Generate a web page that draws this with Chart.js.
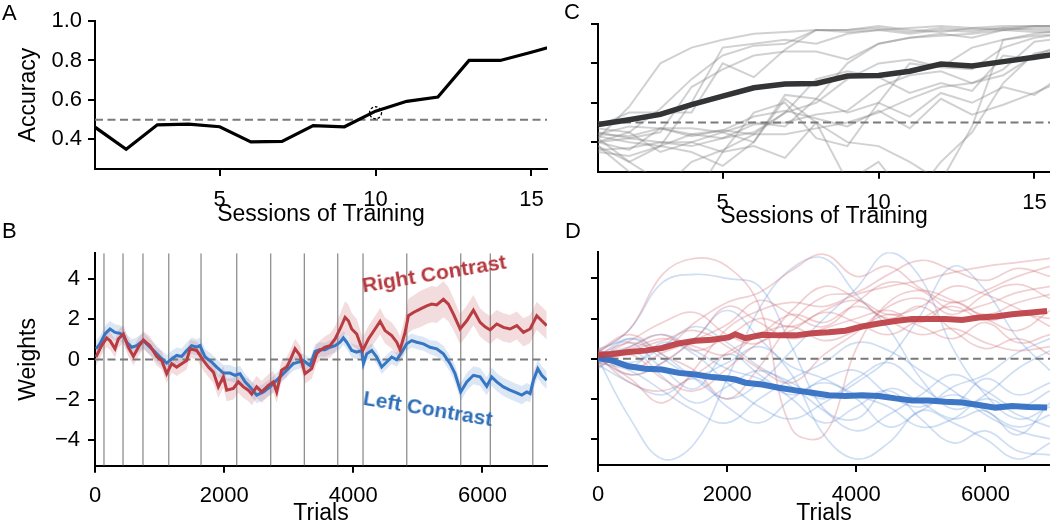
<!DOCTYPE html>
<html>
<head>
<meta charset="utf-8">
<script src="https://cdn.jsdelivr.net/npm/chart.js@4.4.0/dist/chart.umd.min.js"></script>
<style>
html,body{margin:0;padding:0;width:1050px;height:523px;overflow:hidden;background:#fff;font-family:"Liberation Sans",Arial,sans-serif;}
body{position:relative;}
canvas{position:absolute;}
.lbl{position:absolute;font-size:22px;line-height:1;color:#000;z-index:5;}
.ann{position:absolute;font-weight:bold;font-size:21px;line-height:1;white-space:nowrap;z-index:5;}
</style>
</head>
<body>
<canvas id="cA" width="555" height="232" style="left:0;top:0"></canvas>
<canvas id="cC" width="555" height="232" style="left:503px;top:0"></canvas>
<canvas id="cB" width="555" height="300" style="left:0;top:232px"></canvas>
<canvas id="cD" width="555" height="300" style="left:503px;top:232px"></canvas>
<div class="lbl" style="left:2px;top:2px">A</div>
<div class="lbl" style="left:2px;top:220px">B</div>
<div class="lbl" style="left:564px;top:1px">C</div>
<div class="lbl" style="left:565px;top:220px">D</div>
<div class="ann" style="left:434px;top:273px;color:#b5393e;transform:translate(-50%,-50%) rotate(-9.5deg)">Right Contrast</div>
<div class="ann" style="left:428px;top:408px;color:#2e6fb8;transform:translate(-50%,-50%) rotate(9.5deg)">Left Contrast</div>
<script>
// ---------------- Panel A: example animal accuracy ----------------
const sessions = [1,2,3,4,5,6,7,8,9,10,11,12,13,14,15,16];
const exampleAccuracy = [0.462,0.35,0.474,0.477,0.464,0.387,0.39,0.47,0.464,0.543,0.593,0.615,0.80,0.80,0.842,0.885];
const markedSession = [10];
const markedAccuracy = [0.535];
const chanceAccuracy = 0.5;
const accuracyTicks = [0.4,0.6,0.8,1.0];
const sessionTicks = [5,10,15];

// ---------------- Panel C: population accuracy ----------------
const meanAccuracy = [0.489,0.514,0.541,0.591,0.634,0.676,0.695,0.698,0.736,0.739,0.76,0.797,0.787,0.809,0.831,0.855];
const subjectAccuracy = [
  [0.42,0.58,0.80,0.88,0.92,0.95,0.96,0.97,0.97,0.98,0.96,0.98,0.97,0.98,0.99,0.99],
  [0.40,0.45,0.57,0.72,0.84,0.89,0.90,0.97,0.97,0.99,0.97,0.96,0.98,0.97,0.99,0.99],
  [0.48,0.55,0.55,0.55,0.80,0.73,0.87,0.97,0.96,0.97,0.98,0.99,0.98,0.99,0.99,0.99],
  [0.45,0.42,0.45,0.68,0.77,0.84,0.86,0.86,0.82,0.90,0.93,0.95,0.93,0.97,0.98,0.98],
  [0.38,0.30,0.38,0.60,0.88,0.90,0.92,0.90,0.95,0.97,0.95,0.97,0.96,0.98,0.97,0.97],
  [0.44,0.48,0.47,0.47,0.45,0.50,0.48,0.62,0.80,0.90,0.93,0.94,0.95,0.97,0.96,0.96],
  [0.40,0.36,0.47,0.44,0.42,0.45,0.55,0.60,0.72,0.80,0.82,0.78,0.77,0.88,0.93,0.95],
  [0.36,0.37,0.40,0.38,0.42,0.49,0.50,0.54,0.56,0.68,0.74,0.76,0.70,0.77,0.91,0.93],
  [0.47,0.45,0.35,0.40,0.45,0.40,0.64,0.62,0.55,0.60,0.53,0.65,0.60,0.68,0.64,0.75],
  [0.43,0.40,0.38,0.35,0.28,0.40,0.62,0.50,0.20,0.30,0.10,0.30,0.45,0.70,0.85,0.88],
  [0.38,0.25,0.15,0.30,0.36,0.44,0.55,0.72,0.76,0.73,0.65,0.70,0.66,0.84,0.82,0.88],
  [0.35,0.33,0.38,0.44,0.46,0.53,0.56,0.52,0.48,0.56,0.47,0.62,0.54,0.59,0.65,0.72],
  [0.42,0.30,0.20,0.10,0.35,0.55,0.60,0.42,0.38,0.60,0.80,0.78,0.88,0.92,0.94,0.95],
  [0.44,0.43,0.47,0.43,0.46,0.44,0.44,0.47,0.50,0.55,0.62,0.68,0.70,0.74,0.84,0.90],
  [0.40,0.42,0.40,0.40,0.35,0.38,0.32,0.50,0.40,0.38,0.30,0.20,0.48,0.92,0.95,0.97]
];

// ---------------- Panel B: example animal weights ----------------
const sessionBounds = [139,434,743,1142,1642,2195,2721,3242,3759,4151,4828,5664,6122,6780];
const trialTicks = [0,2000,4000,6000];
const weightTicks = [-4,-2,0,2,4];
// [trial, weight, band half-width]
const rightContrastEx = [
  [15,0.12,0.45],[103,0.69,0.45],[181,1.07,0.45],[232,0.94,0.45],[310,0.53,0.45],[361,1.02,0.45],[439,1.27,0.45],
  [516,0.61,0.45],[594,0.15,0.45],[671,0.61,0.45],[749,0.97,0.45],[852,0.69,0.45],[955,0.15,0.45],[1033,-0.05,0.45],
  [1110,-0.71,0.45],[1188,-0.21,0.45],[1265,-0.38,0.45],[1342,-0.21,0.45],[1420,-0.05,0.45],[1472,0.53,0.45],
  [1575,0.45,0.45],[1678,-0.05,0.5],[1756,-0.38,0.5],[1833,-0.63,0.55],[1910,-1.37,0.55],[1988,-0.87,0.55],
  [2040,-1.53,0.55],[2143,-1.45,0.55],[2220,-1.12,0.55],[2298,-1.37,0.55],[2375,-1.53,0.55],[2427,-1.73,0.55],
  [2504,-1.37,0.55],[2582,-1.62,0.55],[2685,-1.29,0.55],[2762,-1.12,0.55],[2814,-1.62,0.55],[2891,-0.54,0.5],
  [2969,-0.38,0.5],[3021,-0.05,0.5],[3098,0.53,0.5],[3175,0.2,0.5],[3253,-0.71,0.5],[3356,-0.46,0.5],
  [3434,0.3,0.5],[3485,0.45,0.5],[3563,0.61,0.55],[3640,0.69,0.6],[3718,1.02,0.65],[3795,1.52,0.75],
  [3873,2.1,0.8],[3924,1.93,0.8],[3976,1.52,0.8],[4053,1.27,0.75],[4146,0.45,0.65],[4234,1.02,0.65],
  [4337,1.52,0.65],[4415,1.9,0.65],[4492,1.44,0.65],[4595,1.19,0.65],[4673,0.86,0.65],[4724,0.48,0.65],
  [4802,1.35,0.8],[4854,2.18,0.85],[4931,2.34,0.85],[5034,2.51,0.9],[5137,2.67,0.9],[5215,2.76,0.9],
  [5292,2.72,0.9],[5396,3.0,0.9],[5473,2.76,0.85],[5551,2.26,0.8],[5654,1.52,0.75],[5757,1.93,0.75],
  [5860,2.46,0.75],[5964,1.85,0.7],[6041,1.63,0.7],[6119,1.47,0.7],[6222,1.77,0.7],[6325,1.6,0.7],
  [6428,1.52,0.7],[6532,1.69,0.7],[6635,1.35,0.7],[6738,1.52,0.7],[6841,2.18,0.7],[6919,1.93,0.7],[6996,1.69,0.7]
];
const leftContrastEx = [
  [15,0.53,0.4],[77,0.78,0.4],[155,1.27,0.4],[232,1.52,0.4],[310,1.35,0.4],[387,1.3,0.4],[439,1.19,0.4],
  [491,0.86,0.4],[568,0.61,0.4],[645,0.69,0.4],[749,0.94,0.4],[826,0.69,0.4],[904,0.45,0.4],[1007,0.12,0.4],
  [1110,-0.18,0.4],[1188,0.03,0.4],[1265,0.2,0.4],[1342,0.15,0.4],[1420,0.45,0.4],[1497,0.69,0.4],
  [1575,0.61,0.4],[1626,0.69,0.4],[1704,0.12,0.4],[1807,-0.13,0.4],[1885,-0.38,0.4],[1988,-0.68,0.4],
  [2091,-0.68,0.4],[2169,-0.79,0.4],[2246,-0.71,0.4],[2324,-1.12,0.4],[2401,-1.37,0.4],[2504,-1.78,0.4],
  [2608,-1.62,0.4],[2711,-1.37,0.4],[2788,-1.12,0.4],[2866,-0.87,0.35],[2969,-0.54,0.35],[3072,-0.21,0.35],
  [3150,-0.13,0.35],[3227,-0.05,0.35],[3330,-0.3,0.35],[3408,0.4,0.35],[3485,0.5,0.35],[3563,0.48,0.35],
  [3640,0.61,0.35],[3718,0.69,0.35],[3795,0.86,0.35],[3847,1.07,0.35],[3898,0.86,0.35],[3976,0.45,0.35],
  [4053,0.36,0.35],[4131,0.45,0.35],[4157,-0.21,0.35],[4208,0.28,0.35],[4286,0.45,0.35],[4363,0.12,0.35],
  [4440,-0.38,0.35],[4518,-0.13,0.35],[4595,0.12,0.35],[4673,-0.02,0.35],[4750,0.36,0.35],[4828,0.78,0.35],
  [4905,0.94,0.35],[4983,0.86,0.35],[5086,0.78,0.35],[5189,0.61,0.35],[5292,0.53,0.4],[5396,0.28,0.4],
  [5499,-0.21,0.4],[5576,-0.71,0.45],[5664,-1.62,0.45],[5757,-1.12,0.45],[5860,-0.79,0.45],[5964,-0.87,0.45],
  [6067,-1.34,0.45],[6144,-0.87,0.45],[6222,-1.12,0.45],[6325,-1.37,0.45],[6428,-1.53,0.45],[6532,-1.67,0.45],
  [6609,-1.78,0.45],[6687,-1.62,0.45],[6738,-1.7,0.45],[6790,-1.04,0.45],[6857,-0.46,0.45],[6919,-0.79,0.45],[6996,-1.04,0.45]
];

// ---------------- Panel D: population weights ----------------
const popTrials = [0,216,475,733,991,1250,1507,1766,2024,2127,2283,2541,2799,3057,3315,3573,3831,4089,4348,4606,4864,5122,5380,5639,5897,6155,6413,6671,6955];
const popRight = [0.2,0.23,0.33,0.4,0.53,0.76,0.89,0.94,1.06,1.22,1.02,1.19,1.16,1.16,1.27,1.32,1.39,1.6,1.75,1.88,1.98,1.98,1.98,1.93,2.05,2.1,2.21,2.29,2.38];
const popLeft = [0.03,-0.1,-0.38,-0.5,-0.54,-0.71,-0.79,-0.92,-0.99,-1.04,-1.2,-1.29,-1.45,-1.58,-1.7,-1.82,-1.86,-1.82,-1.86,-1.98,-2.08,-2.08,-2.15,-2.19,-2.31,-2.44,-2.36,-2.41,-2.44];
const subjTrials = [0,500,1000,1500,2000,2500,3000,3500,4000,4500,5000,5500,6000,6500,7000];
const subjRight = [
  [0.3,1.5,4.2,5.0,4.6,2.6,-3.5,-3.8,0.5,2.8,3.4,2.9,2.2,2.8,3.2],
  [0.0,-1.0,-2.2,-0.5,1.5,2.4,2.8,2.6,3.2,3.6,3.9,4.3,4.6,4.8,5.0],
  [0.2,0.8,0.5,1.8,2.8,3.3,4.4,5.2,4.1,4.6,3.5,2.8,3.4,4.1,4.6],
  [-0.3,0.6,1.2,0.4,1.1,2.0,1.6,2.4,2.9,2.2,2.6,3.6,3.2,2.5,1.6],
  [0.1,-1.2,-1.6,-0.8,0.3,1.2,2.2,1.8,2.6,1.9,1.2,1.5,0.8,0.4,0.6],
  [0.4,1.2,0.2,-0.6,-2.0,-0.4,1.8,3.1,3.3,4.2,4.9,4.4,3.9,4.5,4.1],
  [-0.2,0.4,0.9,1.4,0.6,-0.5,-1.2,0.2,1.3,2.6,3.0,2.2,3.2,3.7,3.0],
  [0.5,-0.5,0.3,1.0,2.6,1.8,1.0,1.5,2.0,2.4,1.8,2.8,2.0,1.4,2.4],
  [0.0,0.9,1.8,2.3,1.2,0.8,2.4,3.6,3.0,2.0,2.6,1.4,0.5,1.0,0.2],
  [0.3,-0.8,-0.2,0.9,1.7,2.9,2.2,1.6,2.8,3.8,3.4,2.4,2.7,3.3,3.6],
  [-0.4,0.2,-1.0,-1.6,-0.5,0.8,1.4,2.3,1.8,1.2,2.0,2.6,1.9,2.2,2.0],
  [0.2,0.5,1.0,0.6,0.2,1.2,1.6,0.9,1.4,2.2,1.6,1.0,1.8,0.8,1.2]
];
const subjLeft = [
  [0.0,-3.0,-5.0,-4.2,-1.0,2.5,4.5,5.0,3.2,1.5,-1.0,-2.5,-1.8,-0.5,0.4],
  [0.3,1.5,3.8,4.2,4.0,3.6,0.6,-2.5,-3.0,-1.5,-2.2,-3.0,-2.6,-3.8,-2.2],
  [-0.2,1.0,0.2,-1.0,-2.0,-1.2,0.4,2.0,3.5,5.3,4.0,0.5,-1.8,-3.0,-2.4],
  [0.5,0.8,-0.5,-1.5,0.2,-0.8,-2.0,-3.2,-2.4,-1.6,-3.0,-4.2,-3.6,-4.6,-4.8],
  [-0.3,-1.2,-1.8,-1.0,-2.4,-3.2,-2.0,-1.2,-2.0,-3.4,-2.6,-1.8,-2.6,-3.4,-2.8],
  [0.2,0.6,1.2,0.4,-0.5,-1.0,-1.8,-1.0,-0.6,-1.8,-2.4,-1.4,-0.8,0.3,1.0],
  [0.0,-0.8,-0.2,1.0,2.4,1.0,-0.8,-3.8,-5.0,-4.2,-2.6,-3.2,-4.0,-5.0,-4.2],
  [-0.5,0.4,-0.9,-2.2,-1.4,-0.6,-1.4,-2.6,-3.6,-2.8,-1.8,-0.8,-1.6,-2.4,-1.6],
  [0.3,-0.4,0.8,0.2,-1.2,-2.4,-3.0,-2.2,-1.2,0.0,2.2,4.6,3.4,1.0,-0.6],
  [0.1,1.0,0.0,-0.8,-0.2,0.6,-0.4,-1.0,-1.8,-2.4,-3.4,-3.0,-2.0,-2.8,-3.4],
  [-0.2,-0.6,-1.6,-2.6,-3.2,-2.0,-1.0,-0.2,0.8,0.4,-0.6,-1.6,-2.8,-3.6,-4.0],
  [0.4,-0.2,0.6,1.6,0.8,-0.4,-1.2,-2.0,-1.0,-0.2,-1.4,-2.2,-1.0,-1.8,-1.2]
];

// ---------------- styling helpers ----------------
const FONT = '"Liberation Sans", Arial, sans-serif';
const TICK_FONT = {family: FONT, size: 22};
const TITLE_FONT = {family: FONT, size: 23};
const DASH_COLOR = '#7a7a7a';
const RED = 'rgb(185,60,66)';
const BLUE = 'rgb(55,118,195)';

const dashPointPlugin = {
  id: 'dashPoint',
  beforeDatasetDraw(chart, args) {
    const ds = chart.data.datasets[args.index];
    if (ds.pointDash) { chart.ctx.save(); chart.ctx.setLineDash(ds.pointDash); }
  },
  afterDatasetDraw(chart, args) {
    const ds = chart.data.datasets[args.index];
    if (ds.pointDash) chart.ctx.restore();
  }
};

function lineDs(pts, color, width, extra) {
  return Object.assign({data: pts, borderColor: color, borderWidth: width, pointRadius: 0,
    pointHoverRadius: 0, fill: false, tension: 0}, extra || {});
}
const xy = (xs, ys) => ys.map((v, i) => ({x: xs[i], y: v}));
const fmtWeight = v => (v < 0 ? '\u2212' + Math.abs(v) : String(v));

function axis(o) {
  return {
    type: 'linear', position: o.position, min: o.min, max: o.max,
    afterFit: o.fit,
    afterBuildTicks: s => { s.ticks = o.ticks.map(v => ({value: v})); },
    grid: {drawOnChartArea: false, drawTicks: true, tickLength: 7, tickWidth: 2, tickColor: '#000', color: '#000', lineWidth: 2},
    border: {display: true, color: '#000', width: 2},
    ticks: {display: o.showLabels, autoSkip: false, maxRotation: 0, minRotation: 0,
      padding: o.tickPad, color: '#000', font: TICK_FONT, callback: o.fmt},
    title: {display: !!o.title, text: o.title || '', color: '#000', font: TITLE_FONT, padding: o.titlePad}
  };
}

function makeChart(id, datasets, cfg) {
  return new Chart(document.getElementById(id), {
    type: 'line',
    data: {datasets: datasets},
    plugins: [dashPointPlugin],
    options: {
      responsive: false, animation: false, devicePixelRatio: 1,
      layout: {padding: cfg.pad},
      plugins: {legend: {display: false}, tooltip: {enabled: false}},
      events: [],
      scales: {x: axis(cfg.x), y: axis(cfg.y)}
    }
  });
}

// ---------------- Panel A ----------------
makeChart('cA', [
  lineDs(xy(markedSession, markedAccuracy), '#000', 1.3, {showLine: false, pointRadius: 6, pointBorderWidth: 1.3,
    pointBorderColor: '#000', pointBackgroundColor: 'rgba(0,0,0,0)', pointDash: [2.5, 2], order: 0}),
  lineDs(xy(sessions, exampleAccuracy), '#000', 3.2, {order: 1}),
  lineDs([{x: 1, y: chanceAccuracy}, {x: 16, y: chanceAccuracy}], DASH_COLOR, 2, {borderDash: [8, 4.5], order: 3})
], {
  pad: {left: 0, top: 21, right: 8, bottom: 0},
  x: {position: 'bottom', min: 1, max: 15.5, ticks: sessionTicks, fit: s => { s.height = 63; }, showLabels: true,
      tickPad: 11, fmt: v => String(v), title: 'Sessions of Training', titlePad: {top: 0, bottom: 4}},
  y: {position: 'left', min: 0.25, max: 1.0, ticks: accuracyTicks, fit: s => { s.width = 95; }, showLabels: true,
      tickPad: 6, fmt: v => v.toFixed(1), title: 'Accuracy', titlePad: {top: 14.5, bottom: 0}}
});

// ---------------- Panel C ----------------
makeChart('cC', [
  lineDs(xy(sessions, meanAccuracy), '#323435', 5.5, {order: 0}),
  lineDs([{x: 1, y: chanceAccuracy}, {x: 16, y: chanceAccuracy}], DASH_COLOR, 2, {borderDash: [8, 4.5], order: 2}),
  ...subjectAccuracy.map(a => lineDs(xy(sessions, a), 'rgba(135,135,135,0.38)', 2, {order: 5}))
], {
  pad: {left: 0, top: 24, right: 8, bottom: 0},
  x: {position: 'bottom', min: 1, max: 15.5, ticks: sessionTicks, fit: s => { s.height = 60.3; }, showLabels: true,
      tickPad: 11, fmt: v => String(v), title: 'Sessions of Training', titlePad: {top: 0, bottom: 2}},
  y: {position: 'left', min: 0.25, max: 1.0, ticks: accuracyTicks, fit: s => { s.width = 95; }, showLabels: false,
      tickPad: 6, fmt: v => v.toFixed(1), title: '', titlePad: 0}
});

// ---------------- Panel B ----------------
makeChart('cB', [
  lineDs(rightContrastEx.map(p => ({x: p[0], y: p[1]})), RED, 3, {order: 1}),
  lineDs(leftContrastEx.map(p => ({x: p[0], y: p[1]})), BLUE, 3, {order: 2}),
  lineDs([{x: 0, y: 0}, {x: 7000, y: 0}], DASH_COLOR, 2, {borderDash: [8, 4.5], order: 3}),
  lineDs(rightContrastEx.map(p => ({x: p[0], y: p[1] + p[2]})), 'rgba(0,0,0,0)', 1, {order: 4}),
  lineDs(rightContrastEx.map(p => ({x: p[0], y: p[1] - p[2]})), 'rgba(0,0,0,0)', 1, {order: 4, fill: '-1', backgroundColor: 'rgba(200,95,100,0.22)'}),
  lineDs(leftContrastEx.map(p => ({x: p[0], y: p[1] + p[2]})), 'rgba(0,0,0,0)', 1, {order: 5}),
  lineDs(leftContrastEx.map(p => ({x: p[0], y: p[1] - p[2]})), 'rgba(0,0,0,0)', 1, {order: 5, fill: '-1', backgroundColor: 'rgba(95,145,215,0.22)'}),
  ...sessionBounds.map(b => lineDs([{x: b, y: -5.3}, {x: b, y: 5.3}], 'rgba(115,115,115,0.8)', 1.3, {order: 10}))
], {
  pad: {left: 0, top: 20.7, right: 8, bottom: 0},
  x: {position: 'bottom', min: 0, max: 7000, ticks: trialTicks, fit: s => { s.height = 66.3; }, showLabels: true,
      tickPad: 10, fmt: v => String(v), title: 'Trials', titlePad: {top: 0, bottom: 5}},
  y: {position: 'left', min: -5.3, max: 5.3, ticks: weightTicks, fit: s => { s.width = 95; }, showLabels: true,
      tickPad: 8, fmt: fmtWeight, title: 'Weights', titlePad: {top: 14.5, bottom: 0}}
});

// ---------------- Panel D ----------------
makeChart('cD', [
  lineDs(xy(popTrials, popRight), 'rgba(188,62,68,0.92)', 6, {order: 0}),
  lineDs(xy(popTrials, popLeft), 'rgba(52,112,195,0.95)', 6, {order: 1}),
  lineDs([{x: 0, y: 0}, {x: 7000, y: 0}], DASH_COLOR, 2, {borderDash: [8, 4.5], order: 3}),
  ...subjRight.map(a => lineDs(xy(subjTrials, a), 'rgba(205,100,105,0.3)', 1.7, {order: 5, tension: 0.4})),
  ...subjLeft.map(a => lineDs(xy(subjTrials, a), 'rgba(95,145,215,0.3)', 1.7, {order: 6, tension: 0.4}))
], {
  pad: {left: 0, top: 20.3, right: 8, bottom: 0},
  x: {position: 'bottom', min: 0, max: 7000, ticks: trialTicks, fit: s => { s.height = 67; }, showLabels: true,
      tickPad: 10, fmt: v => String(v), title: 'Trials', titlePad: {top: 0, bottom: 5}},
  y: {position: 'left', min: -5.3, max: 5.3, ticks: weightTicks, fit: s => { s.width = 95; }, showLabels: false,
      tickPad: 8, fmt: fmtWeight, title: '', titlePad: 0}
});
</script>
</body>
</html>
